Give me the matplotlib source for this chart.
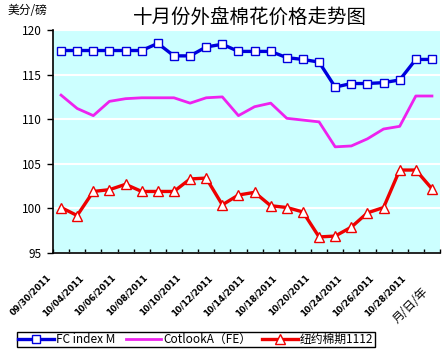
import numpy as np
import matplotlib
matplotlib.use('Agg')
import matplotlib.pyplot as plt

plt.rcParams['font.family'] = ['Noto Sans CJK SC', 'DejaVu Sans']

# Dates shown on the x axis (every second point is labelled)
date_labels = ['09/30/2011', '10/04/2011', '10/06/2011', '10/08/2011',
               '10/10/2011', '10/12/2011', '10/14/2011', '10/18/2011',
               '10/20/2011', '10/24/2011', '10/26/2011', '10/28/2011']

# Prices in US cents per pound
fc_index_m = [117.7, 117.7, 117.7, 117.7, 117.7, 117.7, 118.5, 117.1,
              117.1, 118.1, 118.4, 117.6, 117.6, 117.6, 116.9, 116.7,
              116.4, 113.6, 114.0, 114.0, 114.1, 114.4, 116.7, 116.7]
cotlook_a = [112.7, 111.2, 110.4, 112.0, 112.3, 112.4, 112.4, 112.4,
             111.8, 112.4, 112.5, 110.4, 111.4, 111.8, 110.1, 109.9,
             109.7, 106.9, 107.0, 107.8, 108.9, 109.2, 112.6, 112.6]
ny_1112 = [100.1, 99.2, 101.9, 102.1, 102.7, 101.9, 101.9, 101.9,
           103.3, 103.4, 100.4, 101.5, 101.8, 100.3, 100.1, 99.6,
           96.8, 96.9, 97.9, 99.5, 100.1, 104.3, 104.3, 102.2]

x = np.arange(len(fc_index_m))

fig = plt.figure(figsize=(4.45, 3.54), dpi=100)
ax = fig.add_axes([53 / 445, 1 - 253 / 354, 387 / 445, 223 / 354])
ax.set_facecolor('#ccffff')

ax.plot(x, fc_index_m, color='#0000dd', lw=2.4, marker='s', ms=5.5,
        mfc='white', mec='#0000dd', mew=1.0, label='FC index M', zorder=3)
ax.plot(x, cotlook_a, color='#ee22ee', lw=2.0, label='CotlookA（FE）', zorder=3)
ax.plot(x, ny_1112, color='#ee0000', lw=2.4, marker='^', ms=6.5,
        mfc='white', mec='#ee0000', mew=1.0, label='纽约棉期1112', zorder=3)

ax.set_xlim(-0.5, len(x) - 0.5)
ax.set_ylim(95, 120)
ax.set_yticks(np.arange(95, 121, 5))
ax.yaxis.grid(True, color='white', lw=1.5)
ax.set_axisbelow(True)
ax.tick_params(axis='y', direction='out', length=4, width=1, labelsize=8.5, pad=4)

# category boundaries as small inward ticks, no labels
ax.set_xticks(np.arange(len(x) + 1) - 0.5)
ax.set_xticklabels([])
ax.tick_params(axis='x', direction='in', length=3, width=1)

for side in ['top', 'right']:
    ax.spines[side].set_visible(False)
for side in ['left', 'bottom']:
    ax.spines[side].set_linewidth(1.2)

# rotated date labels
for i, lab in enumerate(date_labels):
    ax.text(2 * i - 0.9, -0.09, lab, transform=ax.get_xaxis_transform(),
            rotation=45, rotation_mode='anchor', ha='right', va='top',
            fontsize=6.2, fontweight='bold', family='DejaVu Sans')

fig.text(410 / 445, 1 - 305 / 354, '月/日/年', rotation=45, ha='center',
         va='center', fontsize=8.5)

fig.text(250 / 445, 1 - 17 / 354, '十月份外盘棉花价格走势图', ha='center',
         va='center', fontsize=14)
fig.text(8 / 445, 1 - 11 / 354, '美分/磅', ha='left', va='center', fontsize=8.5)

leg = fig.legend(loc='lower left', bbox_to_anchor=(17 / 445, 7 / 354), ncol=3,
                 fontsize=8.5, frameon=True, fancybox=False, edgecolor='black',
                 framealpha=1, borderpad=0.1, handlelength=3.0,
                 handletextpad=0.2, columnspacing=0.9, borderaxespad=0)
leg.get_frame().set_linewidth(1.0)

fig.savefig('out.png', dpi=100)
